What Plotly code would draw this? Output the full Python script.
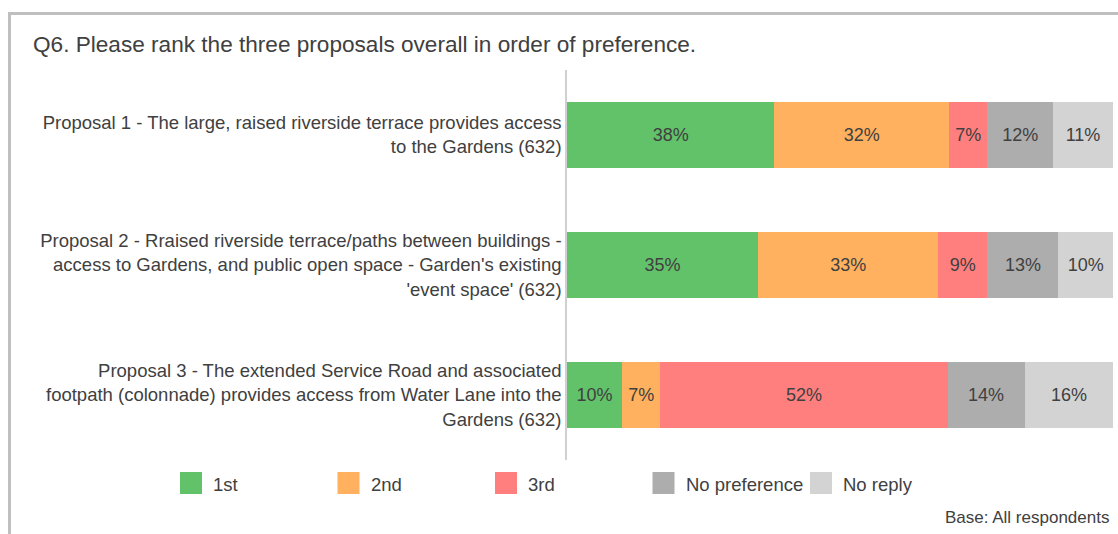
import plotly.graph_objects as go

# Chart data
proposals = [
    "Proposal 1 - The large, raised riverside terrace provides access<br>to the Gardens (632)",
    "Proposal 2 - Rraised riverside terrace/paths between buildings -<br>access to Gardens, and public open space - Garden's existing<br>'event space' (632)",
    "Proposal 3 - The extended Service Road and associated<br>footpath (colonnade) provides access from Water Lane into the<br>Gardens (632)",
]
answers = ["1st", "2nd", "3rd", "No preference", "No reply"]
shares = {
    "1st": [38, 35, 10.1],
    "2nd": [32, 33, 7.0],
    "3rd": [7, 9, 52.6],
    "No preference": [12, 13, 14.1],
    "No reply": [11, 10, 16.3],
}
share_labels = {
    "1st": ["38%", "35%", "10%"],
    "2nd": ["32%", "33%", "7%"],
    "3rd": ["7%", "9%", "52%"],
    "No preference": ["12%", "13%", "14%"],
    "No reply": ["11%", "10%", "16%"],
}
colors = {
    "1st": "#62C26A",
    "2nd": "#FFB15F",
    "3rd": "#FF7F7F",
    "No preference": "#ADADAD",
    "No reply": "#D3D3D3",
}

TEXT = "#404040"
FONT = "Arial, Liberation Sans, sans-serif"
W, H = 1118, 534
L, R, T, B = 567, 5, 70, 74


def px(x):
    return (x - L) / (W - L - R)


def py(y):
    return (H - B - y) / (H - T - B)


fig = go.Figure()
for a in answers:
    fig.add_trace(go.Bar(
        y=proposals, x=shares[a], name=a, orientation="h",
        marker=dict(color=colors[a], line_width=0),
        text=share_labels[a], textposition="inside", insidetextanchor="middle",
        textfont=dict(color=TEXT, size=18, family=FONT),
        constraintext="none", showlegend=False,
    ))

shapes = [
    # outer frame
    dict(type="rect", xref="paper", yref="paper", x0=px(9.5), x1=px(1140), y0=py(13.5), y1=py(560),
         line=dict(color="#BFBFBF", width=3), fillcolor="rgba(0,0,0,0)", layer="below"),
]
annotations = [
    dict(text="Q6. Please rank the three proposals overall in order of preference.",
         xref="paper", yref="paper", x=px(31), y=py(44), xanchor="left", yanchor="middle",
         showarrow=False, font=dict(size=22.6, color=TEXT, family=FONT)),
    dict(text="Base: All respondents", xref="paper", yref="paper", x=px(1111), y=py(517),
         xanchor="right", yanchor="middle", showarrow=False, font=dict(size=17, color=TEXT, family=FONT)),
]
# custom legend with large swatches
for i, a in enumerate(answers):
    x0 = 180 + i * 157.5
    shapes.append(dict(type="rect", xref="paper", yref="paper", x0=px(x0), x1=px(x0 + 22),
                       y0=py(472), y1=py(494), line_width=0, fillcolor=colors[a]))
    annotations.append(dict(text=a, xref="paper", yref="paper", x=px(x0 + 31), y=py(484),
                            xanchor="left", yanchor="middle", showarrow=False,
                            font=dict(size=18.5, color=TEXT, family=FONT)))

fig.update_layout(
    barmode="stack",
    bargap=0.49,
    width=W, height=H,
    margin=dict(l=L, r=R, t=T, b=B),
    paper_bgcolor="white", plot_bgcolor="white",
    font=dict(family=FONT, color=TEXT),
    xaxis=dict(range=[0, 100], visible=False, fixedrange=True),
    yaxis=dict(range=[2.5, -0.5], showgrid=False, zeroline=False, ticks="",
               showline=True, linecolor="#D0D0D0", linewidth=1.5, fixedrange=True,
               tickfont=dict(size=18.5, color=TEXT, family=FONT), ticklabelstandoff=0),
    shapes=shapes, annotations=annotations,
)

fig.write_html("out.html", config={"displayModeBar": False},
               post_script="document.body.style.margin='0';")
